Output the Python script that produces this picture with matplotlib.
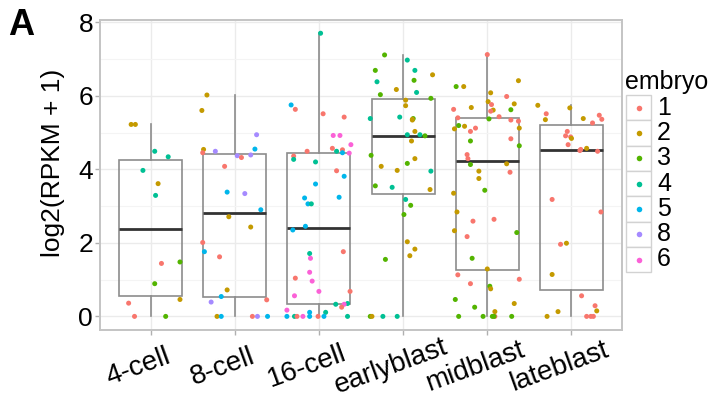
import matplotlib
matplotlib.use("Agg")
import matplotlib.pyplot as plt
from matplotlib.patches import Rectangle
from matplotlib.lines import Line2D
from matplotlib.transforms import ScaledTranslation
import numpy as np

plt.rcParams['font.family'] = ['Liberation Sans', 'DejaVu Sans']

# ---------------- data ----------------
stages = ["4-cell", "8-cell", "16-cell", "earlyblast", "midblast", "lateblast"]
embryo_levels = ["1", "2", "3", "4", "5", "8", "6"]
embryo_colors = ["#F8766D", "#C49A00", "#53B400", "#00C094", "#00B6EB", "#A58AFF", "#FB61D7"]

# per stage: embryo id, log2(RPKM+1) value, horizontal jitter (category units)
emb_4cell = ["2", "2", "4", "4", "4", "2", "4", "1", "3", "3", "2", "1", "1", "3"]
val_4cell = [5.22, 5.22, 4.49, 4.34, 3.97, 3.61, 3.29, 1.44, 1.48, 0.89, 0.46, 0.36, 0.0, 0.0]
jit_4cell = [-0.23, -0.18, 0.05, 0.21, -0.09, 0.09, 0.06, 0.13, 0.35, 0.05, 0.35, -0.26, -0.19, 0.18]

emb_8cell = ["2", "2", "2", "1", "8", "8", "5", "8", "1", "8", "1", "5", "8", "5",
             "2", "2", "1", "5", "1", "2", "5", "8", "1", "2", "5", "1", "8", "5"]
val_8cell = [6.02, 5.60, 4.54, 4.45, 4.49, 4.94, 4.55, 4.37, 4.32, 4.39, 4.08, 3.38, 3.34, 2.90,
             2.71, 2.43, 2.01, 1.76, 1.62, 0.72, 0.54, 0.39, 0.45, 0.0, 0.0, 0.0, 0.0, 0.0]
jit_8cell = [-0.33, -0.39, -0.37, -0.38, -0.23, 0.26, 0.24, 0.03, 0.08, 0.19, -0.12, -0.09, 0.12, 0.31,
             -0.07, 0.19, -0.38, -0.36, -0.18, -0.09, -0.16, -0.28, 0.38, -0.21, -0.16, 0.21, 0.27, 0.39]

emb_16cell = ["4", "5", "1", "1", "1", "6", "6", "6", "1", "4", "1", "5", "6", "1",
              "1", "4", "4", "1", "5", "5", "5", "5", "4", "5", "5", "5", "1", "4",
              "6", "6", "1", "6", "6", "1", "6", "4", "4", "6", "1", "6", "4", "5",
              "5", "4", "1", "6", "5", "1", "5", "4"]
val_16cell = [7.70, 5.75, 5.63, 5.51, 5.42, 4.92, 4.92, 4.67, 4.57, 4.49, 4.53, 4.45, 4.44, 4.49,
              4.36, 4.27, 4.20, 3.96, 3.81, 3.60, 3.22, 3.06, 3.06, 3.24, 2.45, 2.35, 1.76, 1.71,
              1.58, 1.20, 1.04, 0.96, 0.68, 0.68, 0.56, 0.33, 0.35, 0.33, 0.25, 0.17, 0.11, 0.11,
              0.0, 0.0, 0.0, 0.0, 0.0, 0.0, 0.0, 0.0]
jit_16cell = [0.02, -0.33, -0.28, 0.05, 0.30, 0.17, 0.25, 0.38, 0.16, 0.21, 0.28, 0.28, 0.36, -0.14,
              -0.30, -0.30, -0.04, 0.21, 0.30, -0.04, -0.17, -0.13, -0.09, 0.24, -0.16, -0.31, 0.29, -0.11,
              -0.10, -0.11, -0.28, -0.08, 0.00, 0.37, -0.29, 0.20, 0.34, 0.30, 0.27, -0.38, 0.08, -0.11,
              -0.38, -0.29, -0.26, -0.19, -0.11, -0.01, 0.06, 0.34]

emb_early = ["3", "4", "3", "4", "2", "4", "3", "2", "3", "4", "3", "2", "2", "4",
             "4", "2", "3", "2", "4", "4", "3", "2", "3", "2", "3", "2", "2", "4",
             "3", "4", "2", "4", "3", "3", "2", "2", "2", "3", "3", "2", "4", "4", "2"]
val_early = [7.11, 6.97, 6.69, 6.69, 6.57, 6.38, 6.42, 6.17, 6.03, 6.09, 5.93, 5.88, 5.73, 5.38,
             5.42, 5.34, 5.38, 5.03, 4.94, 4.94, 4.91, 4.77, 4.38, 4.29, 4.16, 4.08, 3.97, 3.95,
             3.55, 3.51, 3.45, 3.18, 3.02, 2.77, 2.03, 1.83, 1.65, 1.55, 0.0, 0.0, 0.0, 0.0, 5.36]
jit_early = [-0.22, 0.05, -0.33, 0.14, 0.35, -0.31, 0.13, -0.08, -0.27, 0.16, 0.33, 0.03, 0.03, -0.39,
             -0.04, 0.11, 0.12, 0.14, 0.05, 0.20, 0.26, 0.10, -0.38, 0.14, 0.05, -0.26, -0.07, 0.33,
             -0.33, -0.13, 0.32, 0.03, 0.09, 0.01, 0.05, 0.14, 0.08, -0.21, -0.39, -0.37, -0.24, -0.07, 0.11]

emb_mid = ["1", "3", "2", "2", "2", "1", "2", "1", "2", "1", "2", "2", "1", "3",
           "1", "1", "3", "1", "1", "3", "2", "1", "2", "2", "1", "3", "1", "3",
           "1", "1", "3", "2", "2", "1", "2", "3", "2", "2", "1", "1", "2", "3",
           "1", "3", "2", "1", "1", "1", "3", "2", "3", "2", "3", "2",
           "3", "3", "3", "1", "3", "3"]
val_mid = [7.12, 6.25, 6.25, 6.41, 6.08, 5.98, 5.84, 5.76, 5.78, 5.63, 5.68, 5.61, 5.58, 5.62,
           5.43, 5.40, 5.37, 5.34, 5.31, 5.19, 5.17, 5.12, 5.10, 5.12, 5.03, 4.77, 4.83, 4.64,
           4.40, 4.29, 4.13, 4.15, 3.95, 3.92, 3.75, 3.43, 3.35, 2.84, 2.59, 2.64, 2.33, 2.28,
           2.17, 1.58, 1.29, 1.13, 1.01, 0.89, 0.82, 0.75, 0.46, 0.35, 0.25, 0.13,
           0.0, 0.0, 0.0, 0.0, 0.0, 0.0]
jit_mid = [0.00, -0.37, -0.28, 0.37, 0.04, 0.23, 0.01, 0.05, 0.32, -0.40, -0.19, 0.07, 0.04, 0.28,
           0.14, -0.35, 0.02, 0.28, 0.37, -0.34, -0.27, -0.14, -0.39, 0.38, -0.20, -0.20, 0.28, 0.38,
           -0.24, -0.23, -0.20, 0.23, -0.10, 0.27, -0.10, -0.03, -0.40, -0.36, -0.17, 0.08, -0.39, 0.35,
           -0.24, -0.18, 0.00, -0.35, 0.38, -0.20, 0.03, 0.04, -0.38, 0.32, -0.15, 0.09,
           -0.34, -0.05, 0.06, 0.09, 0.08, 0.29]

emb_late = ["2", "2", "1", "2", "2", "1", "1", "1", "1", "1", "1", "2", "1", "1",
            "2", "1", "1", "1", "1", "2", "2", "1", "1", "2", "2", "2", "1", "1", "1", "1"]
val_late = [5.74, 5.67, 5.51, 5.35, 5.38, 5.47, 5.36, 5.26, 5.03, 4.91, 4.88, 4.84, 4.67, 4.51,
            4.57, 4.49, 3.18, 2.84, 1.96, 1.99, 1.14, 0.56, 0.29, 0.15, 0.13, 0.0, 0.0, 0.0, 0.0, 4.54]
jit_late = [-0.40, -0.02, -0.30, -0.31, 0.14, 0.33, 0.36, 0.25, -0.05, -0.07, -0.01, 0.00, -0.04, 0.10,
            0.18, 0.31, -0.23, 0.35, -0.13, -0.06, -0.23, 0.12, 0.28, 0.30, -0.16, -0.29, 0.18, 0.23, 0.26, 0.11]

emb_all = [emb_4cell, emb_8cell, emb_16cell, emb_early, emb_mid, emb_late]
val_all = [val_4cell, val_8cell, val_16cell, val_early, val_mid, val_late]
jit_all = [jit_4cell, jit_8cell, jit_16cell, jit_early, jit_mid, jit_late]

y_ticks = [0, 2, 4, 6, 8]
y_label = "log2(RPKM + 1)"
legend_title = "embryo"
panel_tag = "A"

# ---------------- figure ----------------
W, H = 715, 405
fig = plt.figure(figsize=(W / 100, H / 100), dpi=100)
fig.patch.set_facecolor("white")
ax = fig.add_axes([100 / W, 75 / H, 522 / W, 310 / H])

positions = np.arange(1, len(stages) + 1)
ax.set_xlim(0.4, len(stages) + 0.6)
ax.set_ylim(-0.37, 8.06)

# grid
ax.set_axisbelow(True)
ax.set_yticks(y_ticks)
ax.set_yticks([1, 3, 5, 7], minor=True)
ax.set_xticks(positions)
ax.grid(True, which="major", color="#ebebeb", lw=1.0)
ax.grid(True, which="minor", axis="y", color="#f4f4f4", lw=0.8)

# boxplots
box_col = "#8c8c8c"
ax.boxplot(val_all, positions=positions, widths=0.75, whis=1.5, showfliers=False,
           patch_artist=True, manage_ticks=False,
           boxprops=dict(facecolor="none", edgecolor=box_col, lw=1.2),
           whiskerprops=dict(color=box_col, lw=1.2),
           capprops=dict(lw=0),
           medianprops=dict(color="#333333", lw=2.0))

# jittered points
cmap = dict(zip(embryo_levels, embryo_colors))
for pos, embs, vals, jits in zip(positions, emb_all, val_all, jit_all):
    xs = pos + np.asarray(jits)
    cols = [cmap[e] for e in embs]
    ax.scatter(xs, vals, s=13, c=cols, linewidths=0, zorder=3)

# axes styling
for sp in ax.spines.values():
    sp.set_color("#c4c4c4")
    sp.set_linewidth(1.4)
ax.tick_params(axis="both", which="major", length=3.5, width=1.0, color="#b0b0b0",
               labelcolor="black")
ax.tick_params(axis="y", which="major", labelsize=19, pad=1.5)
ax.tick_params(axis="y", which="minor", length=0)
ax.tick_params(axis="x", labelsize=20, pad=23)
ax.set_xticklabels(stages, rotation=20, ha="center", va="center", rotation_mode="anchor")
offset = ScaledTranslation(-12 / 100, 0, fig.dpi_scale_trans)
for lab in ax.get_xticklabels():
    lab.set_transform(lab.get_transform() + offset)

ax.set_ylabel(y_label, fontsize=19)
ax.yaxis.set_label_coords((53 - 100) / 522, 0.54)
ax.yaxis.label.set_va("center")

# panel tag
fig.text(8 / W, 1 - 35 / H, panel_tag, fontsize=26, fontweight="bold", va="baseline", ha="left")

# legend (manual, ggplot style)
fig.text(625 / W, 1 - 82 / H, legend_title, fontsize=18, va="center", ha="left")
key_w, key_h = 25, 25.3
for i, (lab, col) in enumerate(zip(embryo_levels, embryo_colors)):
    cy = 107.7 + i * key_h
    fig.add_artist(Rectangle(((626) / W, 1 - (cy + key_h / 2) / H), key_w / W, key_h / H,
                             facecolor="white", edgecolor="#d2d2d2", lw=1.0,
                             transform=fig.transFigure))
    fig.add_artist(Line2D([(626 + key_w / 2) / W], [1 - cy / H], marker="o", ms=4, mew=0,
                          color=col, transform=fig.transFigure))
    fig.text(657 / W, 1 - cy / H, lab, fontsize=18, va="center", ha="left")

fig.savefig("out.png", dpi=100)
